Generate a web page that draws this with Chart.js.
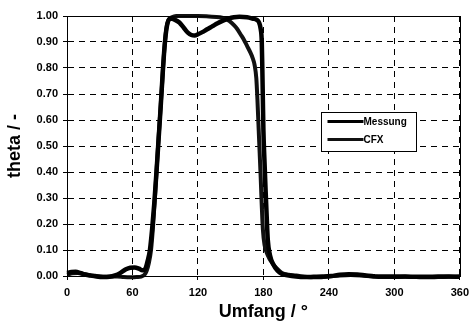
<!DOCTYPE html>
<html>
<head>
<meta charset="utf-8">
<script src="https://cdn.jsdelivr.net/npm/chart.js@4.4.1/dist/chart.umd.min.js"></script>
<style>
html,body{margin:0;padding:0;background:#fff;}
#wrap{width:475px;height:326px;position:relative;}
</style>
</head>
<body>
<div id="wrap"><canvas id="c" width="475" height="326"></canvas></div>
<script>
// ---- data ----
const seriesNames = ["Messung", "CFX"];
const xTicks = [0, 60, 120, 180, 240, 300, 360];
const yTicks = [0.0, 0.1, 0.2, 0.3, 0.4, 0.5, 0.6, 0.7, 0.8, 0.9, 1.0];

const messungX = [0,4,8,12,16,21,27,33,39,44,49,54,58,62,66,69,72,74,76,78,80,82,84,86,88,90,92,95,99,103,107,111,114,117,120,124,128,133,138,143,148,153,158,165,170,174,176,177.5,178.5,179,179.5,180,181,182,183,184,186,189,193,197,202,210,218,226,234,242,250,258,266,274,282,290,300,310,320,330,340,350,360];
const messungY = [0.012,0.015,0.016,0.012,0.006,0.002,-0.002,-0.004,-0.003,0.002,0.012,0.026,0.032,0.033,0.028,0.022,0.03,0.06,0.1,0.18,0.28,0.4,0.53,0.66,0.8,0.91,0.97,0.99,0.985,0.975,0.955,0.935,0.927,0.925,0.93,0.938,0.948,0.96,0.972,0.982,0.99,0.995,0.997,0.995,0.99,0.985,0.975,0.95,0.9,0.8,0.68,0.56,0.44,0.33,0.23,0.14,0.08,0.045,0.02,0.008,0.003,-0.002,-0.004,-0.003,-0.002,0.0,0.005,0.007,0.006,0.002,-0.001,-0.002,-0.002,-0.002,-0.003,-0.003,-0.002,-0.002,-0.003];

const cfxX = [0,5,10,15,20,27,33,40,46,52,58,64,68,71,73,75,77,79,81,83,85,87,89,91,93,96,100,110,120,130,140,145,149,153,156,159,162,165,168,170,172,173.5,174.5,175.5,176.5,177.5,178.5,179.5,181,184,188,192,197,203,210,220,230,240,250,260,270,280,290,300,310,320,330,340,350,360];
const cfxY = [0.005,0.01,0.012,0.008,0.004,0.0,-0.003,-0.002,-0.002,-0.004,-0.005,-0.004,-0.002,0.005,0.02,0.05,0.1,0.2,0.33,0.47,0.6,0.73,0.86,0.95,0.985,0.995,1.0,1.0,1.0,0.998,0.995,0.99,0.98,0.965,0.95,0.93,0.91,0.885,0.86,0.84,0.81,0.76,0.68,0.58,0.48,0.38,0.27,0.18,0.12,0.08,0.05,0.03,0.012,0.005,0.002,-0.004,-0.005,-0.002,0.002,0.004,0.002,-0.002,-0.004,-0.004,-0.003,-0.004,-0.005,-0.004,-0.003,-0.002];

const toPts = (xs, ys) => xs.map((x, i) => ({x: x, y: ys[i]}));

const FONT = "'Liberation Sans', Arial, sans-serif";

const frame = {
  id: 'frame',
  afterDatasetsDraw(chart) {
    const {ctx, chartArea: a} = chart;
    ctx.save();
    ctx.strokeStyle = '#000';
    ctx.lineWidth = 1;
    ctx.setLineDash([]);
    ctx.strokeRect(Math.round(a.left) + 0.5, Math.round(a.top) + 0.5, Math.round(a.right - a.left), Math.round(a.bottom - a.top));
    ctx.restore();
  }
};

const boxLegend = {
  id: 'boxLegend',
  afterDraw(chart) {
    const {ctx, chartArea: a} = chart;
    const w = a.right - a.left, h = a.bottom - a.top;
    const bx = Math.round(a.left + w * 0.647) + 0.5;
    const by = Math.round(a.top + h * 0.37) + 0.5;
    const bw = 95, bh = 39;
    ctx.save();
    ctx.fillStyle = '#fff';
    ctx.fillRect(bx, by, bw, bh);
    ctx.strokeStyle = '#000';
    ctx.lineWidth = 1;
    ctx.setLineDash([]);
    ctx.strokeRect(bx, by, bw, bh);
    ctx.font = "bold 10px " + FONT;
    ctx.textBaseline = 'middle';
    ctx.textAlign = 'left';
    chart.data.datasets.forEach((ds, i) => {
      const yy = by + 9 + i * 18;
      ctx.strokeStyle = ds.borderColor;
      ctx.lineWidth = 3;
      ctx.beginPath();
      ctx.moveTo(bx + 6, yy);
      ctx.lineTo(bx + 42, yy);
      ctx.stroke();
      ctx.fillStyle = '#000';
      ctx.fillText(ds.label, bx + 42, yy + 1);
    });
    ctx.restore();
  }
};

new Chart(document.getElementById('c'), {
  type: 'scatter',
  data: {
    datasets: [
      {label: seriesNames[0], data: toPts(messungX, messungY), showLine: true, borderColor: '#000', borderWidth: 4.5, pointRadius: 0, cubicInterpolationMode: 'monotone', clip: false},
      {label: seriesNames[1], data: toPts(cfxX, cfxY), showLine: true, borderColor: '#111', borderWidth: 4, pointRadius: 0, cubicInterpolationMode: 'monotone', clip: false}
    ]
  },
  options: {
    responsive: false,
    animation: false,
    devicePixelRatio: 1,
    layout: {padding: {top: 16, right: 8, left: 0, bottom: 0}},
    plugins: {legend: {display: false}, tooltip: {enabled: false}},
    scales: {
      x: {
        type: 'linear', min: 0, max: 360,
        afterBuildTicks: s => { s.ticks = xTicks.map(v => ({value: v})); },
        afterFit: s => { s.height = 50; },
        ticks: {color: '#000', font: {family: FONT, size: 11, weight: 'bold'}, padding: 6, maxRotation: 0},
        grid: {color: '#000', lineWidth: 1, tickLength: 4, tickBorderDash: [], tickColor: '#000', tickWidth: 1},
        border: {display: true, color: '#000', width: 1, dash: [6, 5]},
        title: {display: true, text: 'Umfang / °', color: '#000', font: {family: FONT, size: 18, weight: 'bold'}, padding: {top: 0, bottom: 3}}
      },
      y: {
        type: 'linear', min: 0, max: 1,
        afterBuildTicks: s => { s.ticks = yTicks.map(v => ({value: v})); },
        afterFit: s => { s.width = 67; },
        ticks: {color: '#000', font: {family: FONT, size: 11, weight: 'bold'}, padding: 5, callback: v => Number(v).toFixed(2)},
        grid: {color: '#000', lineWidth: 1, tickLength: 4, tickBorderDash: [], tickColor: '#000', tickWidth: 1},
        border: {display: true, color: '#000', width: 1, dash: [6, 5]},
        title: {display: true, text: 'theta / -', color: '#000', font: {family: FONT, size: 18, weight: 'bold'}, padding: {top: 4, bottom: 0}}
      }
    }
  },
  plugins: [frame, boxLegend]
});
</script>
</body>
</html>
